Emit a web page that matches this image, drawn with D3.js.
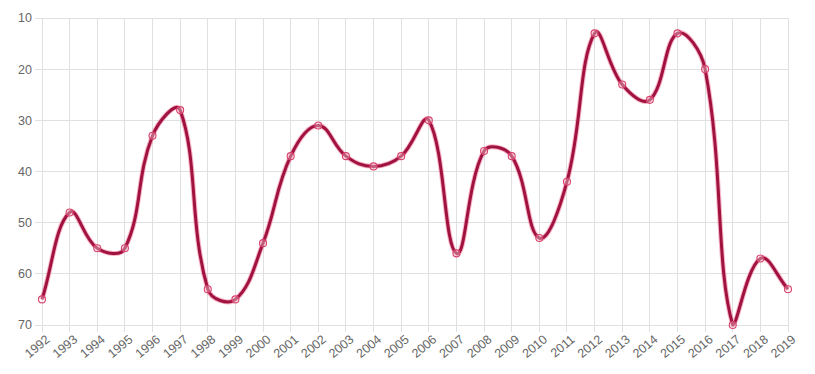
<!DOCTYPE html>
<html><head><meta charset="utf-8">
<script src="https://cdn.jsdelivr.net/npm/d3@7"></script>
<style>html,body{margin:0;padding:0;background:#fff;}svg{display:block;}</style>
</head><body>
<svg id="c" width="815" height="374"></svg>
<script>
const years = ["1992","1993","1994","1995","1996","1997","1998","1999","2000","2001","2002","2003","2004","2005","2006","2007","2008","2009","2010","2011","2012","2013","2014","2015","2016","2017","2018","2019"];
const values = [65,48,55,55,33,28,63,65,54,37,31,37,39,37,30,56,36,37,53,42,13,23,26,13,20,70,57,63];
const yTicks = [10,20,30,40,50,60,70];

const svg = d3.select("#c");
const L = 42, R = 788, T = 18, B = 325;
const x = d3.scalePoint().domain(years).range([L, R]);
const y = d3.scaleLinear().domain([10, 70]).range([T, B]);

// gridlines
const g = svg.append("g");
g.selectAll("line.v").data(years).enter().append("line")
  .attr("x1", d => x(d)).attr("x2", d => x(d)).attr("y1", T).attr("y2", B + 7)
  .attr("stroke", "#e0e0e0").attr("stroke-width", 1).attr("shape-rendering","crispEdges");
g.selectAll("line.h").data(yTicks).enter().append("line")
  .attr("x1", L - 7).attr("x2", R).attr("y1", d => y(d)).attr("y2", d => y(d))
  .attr("stroke", "#e0e0e0").attr("stroke-width", 1).attr("shape-rendering","crispEdges");

// y labels
svg.selectAll("text.y").data(yTicks).enter().append("text")
  .attr("x", L - 10).attr("y", d => y(d)).attr("dy", "0.35em")
  .attr("text-anchor", "end").attr("font-family", "Liberation Sans, Arial, sans-serif")
  .attr("font-size", 12.5).attr("fill", "#666").text(d => d);

// x labels
svg.selectAll("text.x").data(years).enter().append("text")
  .attr("transform", d => `translate(${x(d) + 3},${B + 9}) rotate(-40)`)
  .attr("text-anchor", "end").attr("dy", "0.7em")
  .attr("font-family", "Liberation Sans, Arial, sans-serif")
  .attr("font-size", 12.5).attr("fill", "#666").text(d => d);

// Chart.js-like spline curve (tension 0.4, capped to chart area)
function chartjsCurve(context) {
  let pts = [];
  return {
    lineStart() { pts = []; },
    lineEnd() {
      const t = 0.4, n = pts.length;
      const cps = pts.map((p, i) => {
        const prev = pts[i - 1] || p, next = pts[i + 1] || p;
        const d01 = Math.hypot(p[0] - prev[0], p[1] - prev[1]);
        const d12 = Math.hypot(next[0] - p[0], next[1] - p[1]);
        let s01 = d01 / (d01 + d12), s12 = d12 / (d01 + d12);
        if (isNaN(s01)) s01 = 0; if (isNaN(s12)) s12 = 0;
        const fa = t * s01, fb = t * s12;
        const cap = (v, lo, hi) => Math.max(lo, Math.min(hi, v));
        return {
          pX: cap(p[0] - fa * (next[0] - prev[0]), L, R),
          pY: cap(p[1] - fa * (next[1] - prev[1]), T, B),
          nX: cap(p[0] + fb * (next[0] - prev[0]), L, R),
          nY: cap(p[1] + fb * (next[1] - prev[1]), T, B)
        };
      });
      context.moveTo(pts[0][0], pts[0][1]);
      for (let i = 1; i < n; i++) {
        context.bezierCurveTo(cps[i - 1].nX, cps[i - 1].nY, cps[i].pX, cps[i].pY, pts[i][0], pts[i][1]);
      }
    },
    point(a, b) { pts.push([a, b]); },
    areaStart() {}, areaEnd() {}
  };
}

const line = d3.line().x((d, i) => x(years[i])).y(d => y(d)).curve(chartjsCurve);
svg.append("path").datum(values).attr("d", line)
  .attr("fill", "none").attr("stroke", "#f06a90").attr("stroke-opacity", 0.5)
  .attr("stroke-width", 5).attr("stroke-linejoin", "round");
svg.append("path").datum(values).attr("d", line)
  .attr("fill", "none").attr("stroke", "#a0123f").attr("stroke-width", 3)
  .attr("stroke-linejoin", "round");

svg.selectAll("circle").data(values).enter().append("circle")
  .attr("cx", (d, i) => x(years[i])).attr("cy", d => y(d)).attr("r", 3.5)
  .attr("fill", "rgba(255,235,240,0.35)").attr("stroke", "#d8406c").attr("stroke-width", 1.1);
</script>
</body></html>
